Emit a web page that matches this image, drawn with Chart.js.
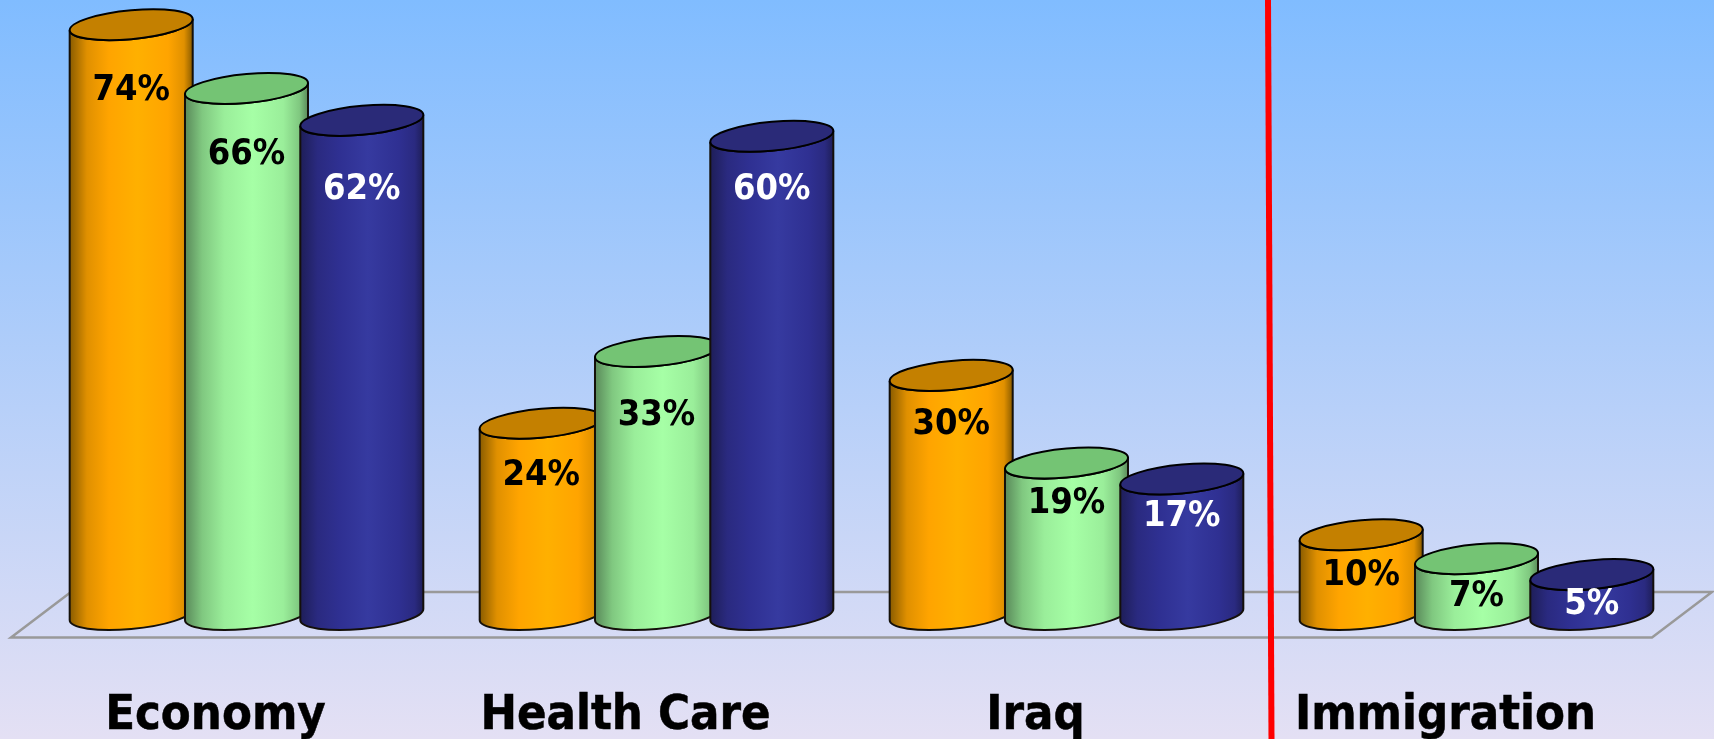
<!DOCTYPE html>
<html>
<head>
<meta charset="utf-8">
<script src="https://cdn.jsdelivr.net/npm/chart.js@4"></script>
<style>
  html, body { margin: 0; padding: 0; overflow: hidden; }
  body { width: 1714px; height: 739px; background: linear-gradient(to bottom, #80bcff 0%, #e4e0f4 100%); }
  canvas { display: block; }
</style>
</head>
<body>
<canvas id="chart" width="1714" height="739"></canvas>
<script>
const categories = ['Economy', 'Health Care', 'Iraq', 'Immigration'];
const seriesA = [74, 24, 30, 10];
const seriesB = [66, 33, 19, 7];
const seriesC = [62, 60, 17, 5];

// the % labels sit by hand on each cylinder, pixels below the top
const labelDrop = [
    [66, 52, 49, 41],
    [66, 64, 41, 38],
    [69, 53, 38, 30]
];

const looks = [
    { top: '#c48000', edge: '#8a5c00', dim: '#e09000', side: '#ffa400', mid: '#ffb000', text: '#000' },
    { top: '#74c474', edge: '#5a8a5a', dim: '#80c880', side: '#9aee9a', mid: '#a6ffa6', text: '#000' },
    { top: '#2a2a78', edge: '#1e1e58', dim: '#2a2a80', side: '#2f3092', mid: '#363aa0', text: '#fff' }
];

const capHeight = 14.5;
const tilt = 0.0894;

const cylinders = {
    id: 'cylinders',
    beforeDatasetsDraw(chart) {
        const c = chart.ctx;
        const area = chart.chartArea;
        const base = chart.scales.y.getPixelForValue(0);
        // floor
        c.save();
        c.strokeStyle = '#999';
        c.lineWidth = 2.5;
        c.lineJoin = 'miter';
        c.beginPath();
        c.moveTo(area.left + 29.5, base - 22.5);
        c.lineTo(area.left - 30.5, base + 23);
        c.lineTo(area.right - 29.5, base + 23);
        c.lineTo(area.right + 30.5, base - 22.5);
        c.closePath();
        c.stroke();
        c.restore();
    },
    afterDatasetsDraw(chart) {
        const c = chart.ctx;
        chart.data.datasets.forEach(function(ds, i) {
            const look = looks[i];
            chart.getDatasetMeta(i).data.forEach(function(bar) {
                const a = bar.width / 2;
                c.save();
                c.transform(1, -tilt, 0, 1, bar.x, 0);
                const g = c.createLinearGradient(-a, 0, a, 0);
                g.addColorStop(0, look.edge);
                g.addColorStop(0.14, look.dim);
                g.addColorStop(0.32, look.side);
                g.addColorStop(0.55, look.mid);
                g.addColorStop(0.8, look.side);
                g.addColorStop(0.93, look.dim);
                g.addColorStop(1, look.edge);
                c.beginPath();
                c.moveTo(-a, bar.y);
                c.lineTo(-a, bar.base);
                c.ellipse(0, bar.base, a, capHeight, 0, Math.PI, 0, true);
                c.lineTo(a, bar.y);
                c.ellipse(0, bar.y, a, capHeight, 0, 0, Math.PI, false);
                c.closePath();
                c.fillStyle = g;
                c.fill();
                c.strokeStyle = '#14100a';
                c.lineWidth = 2;
                c.stroke();
                c.beginPath();
                c.ellipse(0, bar.y, a, capHeight, 0, 0, Math.PI * 2);
                c.fillStyle = look.top;
                c.fill();
                c.strokeStyle = '#000';
                c.stroke();
                c.restore();
            });
        });
        // percent labels
        c.save();
        c.font = 'bold 36px "DejaVu Sans Condensed", "DejaVu Sans"';
        c.textAlign = 'center';
        c.textBaseline = 'middle';
        chart.data.datasets.forEach(function(ds, i) {
            chart.getDatasetMeta(i).data.forEach(function(bar, j) {
                c.fillStyle = looks[i].text;
                c.fillText(ds.data[j] + '%', bar.x, bar.y + labelDrop[i][j]);
            });
        });
        c.restore();
    },
    afterDraw(chart) {
        // red divider between Iraq and Immigration
        const c = chart.ctx;
        c.save();
        c.strokeStyle = '#ff0000';
        c.lineWidth = 6;
        c.beginPath();
        c.moveTo(1268, 0);
        c.lineTo(1271.5, chart.height);
        c.stroke();
        c.restore();
    }
};

new Chart(document.getElementById('chart').getContext('2d'), {
    type: 'bar',
    data: {
        labels: categories,
        datasets: [
            { data: seriesA, backgroundColor: 'transparent', borderWidth: 0 },
            { data: seriesB, backgroundColor: 'transparent', borderWidth: 0 },
            { data: seriesC, backgroundColor: 'transparent', borderWidth: 0 }
        ]
    },
    options: {
        responsive: false,
        animation: false,
        categoryPercentage: 0.8437,
        barPercentage: 1.067,
        layout: { padding: { left: 41.5, right: 32.5, top: 0, bottom: 0 } },
        plugins: { legend: { display: false }, tooltip: { enabled: false } },
        scales: {
            x: {
                grid: { display: false },
                border: { display: false },
                afterFit(scale) { scale.height = 124.5; },
                ticks: {
                    color: '#000',
                    maxRotation: 0,
                    padding: 65,
                    labelOffset: -31,
                    textStrokeColor: '#000',
                    textStrokeWidth: 0.5,
                    font: { family: '"DejaVu Sans Condensed", "DejaVu Sans"', size: 48.5, weight: 'bold' }
                }
            },
            y: { display: false, min: 0, max: 77.1 }
        }
    },
    plugins: [cylinders]
});
</script>
</body>
</html>
